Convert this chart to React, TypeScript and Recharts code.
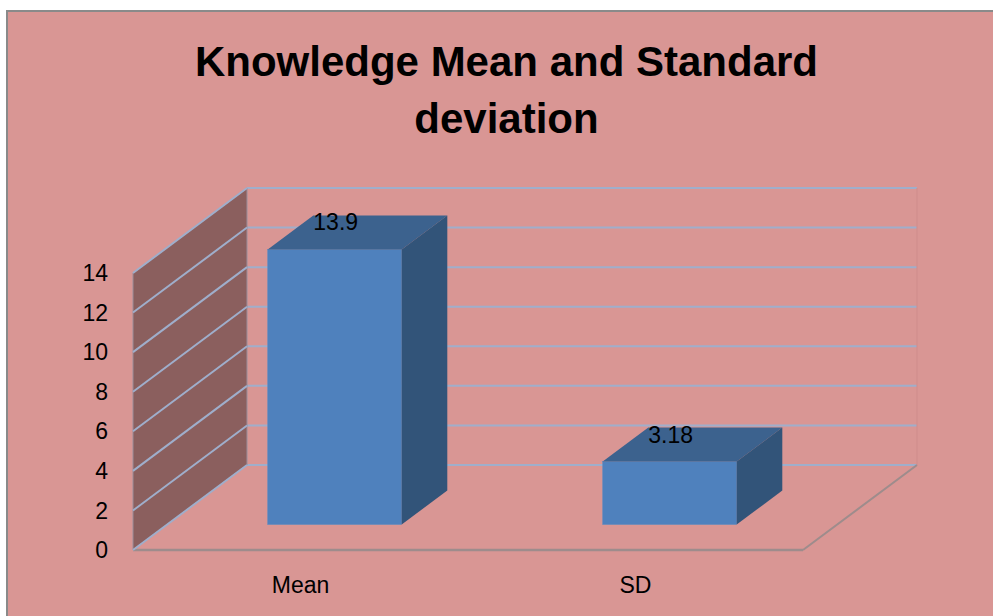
import React from 'react';
import { BarChart, Bar, XAxis, YAxis, CartesianGrid, ReferenceArea, ReferenceLine, LabelList } from 'recharts';

const categories = ['Mean', 'SD'];
const values = [13.9, 3.18];
const yTicks = [0, 2, 4, 6, 8, 10, 12, 14];
const titleLines = ['Knowledge Mean and Standard', 'deviation'];

const data = categories.map((name, i) => ({ name, value: values[i] }));

const W = 993;
const H = 616;
const DX = 114;
const DY = 85;
const BAR_FRONT = 0.3;
const BAR_DEPTH = 0.4;
const BG = '#D99694';
const WALL = '#8B5F5E';
const GRID = '#9FAECB';
const EDGE = '#9E8C8C';
const FONT = '"Liberation Sans", Arial, sans-serif';

const WallShape = (p: any) => {
  const { x, y, width, height } = p;
  const bottom = y + height;
  return (
    <g>
      <polygon
        points={`${x},${bottom} ${x},${y} ${x + DX},${y - DY} ${x + DX},${bottom - DY}`}
        fill={WALL}
        stroke="#9A8E9A"
        strokeWidth={1}
      />
      <line x1={x + width + DX} y1={y - DY} x2={x + width + DX} y2={bottom - DY} stroke="#CF8C8B" strokeWidth={1} />
      <line x1={x} y1={bottom} x2={x + width} y2={bottom} stroke={EDGE} strokeWidth={2.5} />
      <line x1={x + width} y1={bottom} x2={x + width + DX} y2={bottom - DY} stroke={EDGE} strokeWidth={2} />
    </g>
  );
};

const BackGridLine = (p: any) => {
  const { x1, y1, x2 } = p;
  return (
    <line key={p.key} x1={x1 + DX} y1={y1 - DY} x2={x2 + DX} y2={y1 - DY} stroke={GRID} strokeWidth={2} />
  );
};

const SideGridLine = (p: any) => {
  const x1 = Math.min(p.x1, p.x2);
  const y1 = p.y1;
  return <line x1={x1} y1={y1} x2={x1 + DX} y2={y1 - DY} stroke={GRID} strokeWidth={2} />;
};

const Bar3D = (p: any) => {
  const { x, y, width, height } = p;
  if (height == null || width == null) return null;
  const fx = x + DX * BAR_FRONT;
  const fy = y - DY * BAR_FRONT;
  const bx = DX * BAR_DEPTH;
  const by = DY * BAR_DEPTH;
  return (
    <g>
      <rect x={fx} y={fy} width={width} height={height} fill="#4F81BD" stroke="#5A8AC2" strokeWidth={0.5} />
      <polygon
        points={`${fx},${fy} ${fx + bx},${fy - by} ${fx + width + bx},${fy - by} ${fx + width},${fy}`}
        fill="#3C628E"
      />
      <polygon
        points={`${fx + width},${fy} ${fx + width + bx},${fy - by} ${fx + width + bx},${fy + height - by} ${fx + width},${fy + height}`}
        fill="#325479"
      />
    </g>
  );
};

const ValueLabel = (p: any) => {
  const vb = p.viewBox && p.viewBox.x != null ? p.viewBox : p;
  const { x, y } = vb;
  if (x == null || y == null) return null;
  const tx = x + DX * (BAR_FRONT + BAR_DEPTH);
  const ty = y - DY * (BAR_FRONT + BAR_DEPTH);
  return (
    <text x={tx} y={ty + 15} fontSize={23} fontFamily={FONT} fill="#000">
      {p.value}
    </text>
  );
};

export default function App() {
  return (
    <div style={{ position: 'absolute', left: 0, top: 0, width: W, height: H, background: '#fff', overflow: 'hidden' }}>
      <div
        style={{
          position: 'absolute',
          left: 6,
          top: 10,
          width: W - 6,
          height: H - 10,
          background: BG,
          borderLeft: '2px solid #8A8A8A',
          borderTop: '2px solid #8A8A8A',
          boxSizing: 'border-box',
        }}
      />
      <svg width={W} height={H} style={{ position: 'absolute', left: 0, top: 0 }}>
        {titleLines.map((t, i) => (
          <text
            key={t}
            x={506.5}
            y={76 + i * 57}
            textAnchor="middle"
            fontSize={42}
            fontWeight="bold"
            fontFamily={FONT}
            fill="#000"
          >
            {t}
          </text>
        ))}
      </svg>
      <div style={{ position: 'absolute', left: 0, top: 0 }}>
        <BarChart
          width={W}
          height={H}
          data={data}
          margin={{ top: 273, right: 190, bottom: 0, left: 73 }}
          barCategoryGap="30%"
        >
          <CartesianGrid vertical={false} horizontal={BackGridLine as any} />
          <ReferenceArea y1={0} y2={14} shape={WallShape} ifOverflow="visible" />
          {yTicks.map((t) => (
            <ReferenceLine key={t} y={t} shape={SideGridLine} ifOverflow="visible" />
          ))}
          <YAxis
            type="number"
            domain={[0, 14]}
            ticks={yTicks}
            width={60}
            axisLine={false}
            tickLine={false}
            tickSize={0}
            tickMargin={25}
            tick={{ fontSize: 23, fontFamily: FONT, fill: '#000' }}
            interval={0}
          />
          <XAxis
            dataKey="name"
            height={66}
            axisLine={false}
            tickLine={false}
            tickSize={0}
            tickMargin={27}
            tick={{ fontSize: 23, fontFamily: FONT, fill: '#000' }}
            interval={0}
          />
          <Bar dataKey="value" shape={Bar3D} isAnimationActive={false}>
            <LabelList dataKey="value" content={ValueLabel} />
          </Bar>
        </BarChart>
      </div>
    </div>
  );
}
